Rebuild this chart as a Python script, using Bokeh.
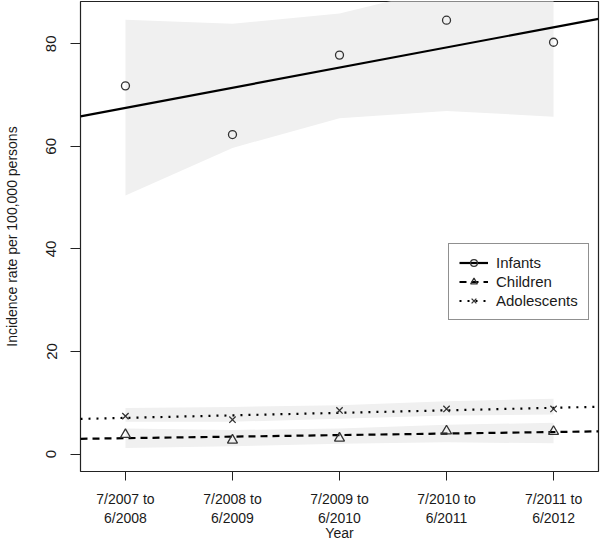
import numpy as np
from bokeh.plotting import figure
from bokeh.models import FixedTicker, Legend, LegendItem, Range1d
from bokeh.embed import file_html
from bokeh.resources import INLINE

# ---- data ----
periods = ["7/2007 to\n6/2008", "7/2008 to\n6/2009", "7/2009 to\n6/2010",
           "7/2010 to\n6/2011", "7/2011 to\n6/2012"]
infants = [71.8, 62.3, 77.8, 84.6, 80.3]
children = [3.8, 2.7, 3.1, 4.5, 4.4]
adolescents = [7.4, 6.7, 8.5, 8.8, 8.8]

infants_lo = [50.4, 59.7, 65.5, 66.9, 65.8]
infants_hi = [84.7, 83.9, 85.9, 91.0, 97.0]
children_lo = [1.2, 1.5, 2.0, 2.3, 2.1]
children_hi = [5.0, 4.7, 5.0, 5.7, 6.1]
adolescents_lo = [6.3, 6.3, 6.9, 7.5, 7.7]
adolescents_hi = [9.0, 9.2, 9.5, 10.3, 10.8]

y_ticks = [0, 20, 40, 60, 80]

FONT = "Liberation Sans"
x = list(range(len(periods)))
x_lo, x_hi = -0.42, len(periods) - 1 + 0.42

p = figure(width=600, height=543, output_backend="svg", toolbar_location=None,
           x_range=Range1d(x_lo, x_hi), y_range=Range1d(-3.4, 88.25),
           min_border_left=72, min_border_right=2, min_border_top=1,
           min_border_bottom=70)
p.grid.visible = False
p.outline_line_color = "#222222"
p.outline_line_width = 1.2
p.background_fill_color = "white"
p.border_fill_color = "white"

# bands
band_color = "#f0f0f0"
for lo, hi in [(infants_lo, infants_hi), (children_lo, children_hi),
               (adolescents_lo, adolescents_hi)]:
    p.varea(x=x, y1=lo, y2=hi, fill_color=band_color)

def fit_line(vals):
    m, b = np.polyfit(x, vals, 1)
    xs = [x_lo, x_hi]
    return xs, [m * xv + b for xv in xs]

series = [
    ("Infants", infants, "solid", "circle", 8),
    ("Children", children, "7 5", "triangle", 10),
    ("Adolescents", adolescents, "2 6", "x", 9),
]

items = []
for name, vals, dash, marker, size in series:
    xs, ys = fit_line(vals)
    lr = p.line(xs, ys, line_color="black", line_width=2.2, line_dash=dash)
    sr = p.scatter(x, vals, marker=marker, size=size, fill_color=None,
                   line_color="#333333", line_width=1.3)
    items.append(LegendItem(label=name, renderers=[lr, sr]))

legend = Legend(items=items, location=(368, 151))
legend.border_line_color = "#222222"
legend.border_line_width = 1
legend.background_fill_color = "white"
legend.padding = 10
legend.spacing = 2
legend.margin = 0
legend.glyph_width = 29
legend.glyph_height = 17
legend.label_height = 17
legend.label_standoff = 8
legend.label_text_font = FONT
legend.label_text_font_size = "15px"
legend.label_text_color = "#1a1a1a"
p.add_layout(legend, "center")

# x axis
xa = p.xaxis[0]
xa.ticker = FixedTicker(ticks=x)
xa.major_label_overrides = {i: lab for i, lab in enumerate(periods)}
xa.axis_label = "Year"
xa.axis_line_color = None
xa.major_tick_out = 9
xa.major_tick_in = 0
xa.minor_tick_line_color = None
xa.major_tick_line_color = "#222222"
xa.major_label_standoff = 10
xa.axis_label_standoff = -4
xa.major_label_text_font = FONT
xa.major_label_text_font_size = "14px"
xa.major_label_text_color = "#1a1a1a"
xa.axis_label_text_font = FONT
xa.axis_label_text_font_size = "14px"
xa.axis_label_text_font_style = "normal"
xa.axis_label_text_color = "#1a1a1a"

# y axis
ya = p.yaxis[0]
ya.ticker = FixedTicker(ticks=y_ticks)
ya.axis_label = "Incidence rate per 100,000 persons"
ya.axis_line_color = None
ya.major_tick_out = 10
ya.major_tick_in = 0
ya.minor_tick_line_color = None
ya.major_tick_line_color = "#222222"
ya.major_label_orientation = "vertical"
ya.major_label_standoff = 14
ya.axis_label_standoff = 24
ya.major_label_text_font = FONT
ya.major_label_text_font_size = "15px"
ya.major_label_text_color = "#1a1a1a"
ya.axis_label_text_font = FONT
ya.axis_label_text_font_size = "14px"
ya.axis_label_text_font_style = "normal"
ya.axis_label_text_color = "#1a1a1a"

open("out.html", "w").write(file_html(p, INLINE))
